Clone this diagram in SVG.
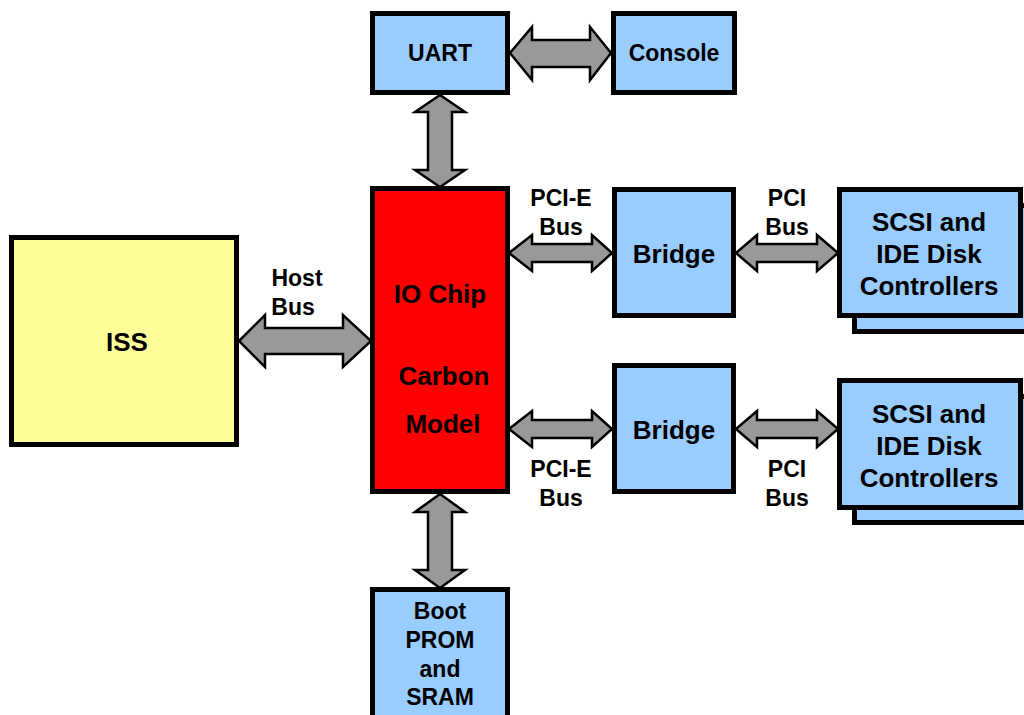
<svg xmlns="http://www.w3.org/2000/svg" width="1024" height="715" viewBox="0 0 1024 715">
<style>
.box{stroke:#000;stroke-width:5}
.blue{fill:#99CCFF}
.yellow{fill:#FFFF99}
.red{fill:#FF0000}
.arr{fill:#999999;stroke:#000;stroke-width:2.5;stroke-linejoin:miter}
text{font-family:"Liberation Sans",Arial,sans-serif;font-weight:bold;fill:#000;text-anchor:middle}
.big{font-size:26px}
.lbl{font-size:23px}
</style>
<rect width="1024" height="715" fill="#fff"/>
<g id="connectors">
<path class="arr" d="M510 53 L532 27 L532 40 L590 40 L590 27 L611 53 L590 80 L590 67 L532 67 L532 80 Z"/>
<path class="arr" d="M440 95 L415 112 L428 112 L428 170 L415 170 L440 187 L465 170 L452 170 L452 112 L465 112 Z"/>
<path class="arr" d="M239 341 L265 315 L265 328 L343 328 L343 315 L371 341 L343 367 L343 354 L265 354 L265 367 Z"/>
<path class="arr" d="M509 253 L532 235 L532 244 L592 244 L592 235 L612 253 L592 271 L592 262 L532 262 L532 271 Z"/>
<path class="arr" d="M736 253 L757 235 L757 244 L817 244 L817 235 L838 253 L817 271 L817 262 L757 262 L757 271 Z"/>
<path class="arr" d="M509 429 L532 411 L532 420 L592 420 L592 411 L612 429 L592 447 L592 438 L532 438 L532 447 Z"/>
<path class="arr" d="M736 429 L757 411 L757 420 L817 420 L817 411 L838 429 L817 447 L817 438 L757 438 L757 447 Z"/>
<path class="arr" d="M440 494 L415 512 L428 512 L428 570 L415 570 L440 588 L465 570 L452 570 L452 512 L465 512 Z"/>
<text class="lbl" x="297" y="286">Host</text>
<text class="lbl" x="293" y="315">Bus</text>
<text class="lbl" x="561" y="206">PCI-E</text>
<text class="lbl" x="561" y="235">Bus</text>
<text class="lbl" x="787" y="206">PCI</text>
<text class="lbl" x="787" y="235">Bus</text>
<text class="lbl" x="561" y="477">PCI-E</text>
<text class="lbl" x="561" y="506">Bus</text>
<text class="lbl" x="787" y="477">PCI</text>
<text class="lbl" x="787" y="506">Bus</text>
</g>
<g id="uart">
<rect class="box blue" x="372.5" y="13.5" width="135" height="79"/>
<text class="lbl" x="440" y="61">UART</text>
</g>
<g id="console">
<rect class="box blue" x="613.5" y="13.5" width="121" height="79"/>
<text class="lbl" x="674" y="61">Console</text>
</g>
<g id="iss">
<rect class="box yellow" x="11.5" y="237.5" width="225" height="207"/>
<text class="big" x="127" y="351">ISS</text>
</g>
<g id="iochip">
<rect class="box red" x="372.5" y="188.5" width="135" height="303"/>
<text class="big" x="440" y="303">IO Chip</text>
<text class="big" x="444" y="385">Carbon</text>
<text class="big" x="443" y="433">Model</text>
</g>
<g id="bridge1">
<rect class="box blue" x="614.5" y="189.5" width="119" height="126"/>
<text class="big" x="674" y="263">Bridge</text>
</g>
<g id="bridge2">
<rect class="box blue" x="614.5" y="365.5" width="119" height="126"/>
<text class="big" x="674" y="439">Bridge</text>
</g>
<g id="scsi1">
<rect class="box blue" x="854.5" y="205.5" width="181" height="126"/>
<rect class="box blue" x="839.5" y="189.5" width="181" height="126"/>
<text class="big" x="929" y="231">SCSI and</text>
<text class="big" x="929" y="263">IDE Disk</text>
<text class="big" x="929" y="295">Controllers</text>
</g>
<g id="scsi2">
<rect class="box blue" x="854.5" y="396.5" width="181" height="126"/>
<rect class="box blue" x="839.5" y="380.5" width="181" height="127"/>
<text class="big" x="929" y="423">SCSI and</text>
<text class="big" x="929" y="455">IDE Disk</text>
<text class="big" x="929" y="487">Controllers</text>
</g>
<g id="bootprom">
<rect class="box blue" x="372.5" y="589.5" width="135" height="140"/>
<text class="lbl" x="440" y="619">Boot</text>
<text class="lbl" x="440" y="648">PROM</text>
<text class="lbl" x="440" y="677">and</text>
<text class="lbl" x="440" y="705">SRAM</text>
</g>
</svg>
